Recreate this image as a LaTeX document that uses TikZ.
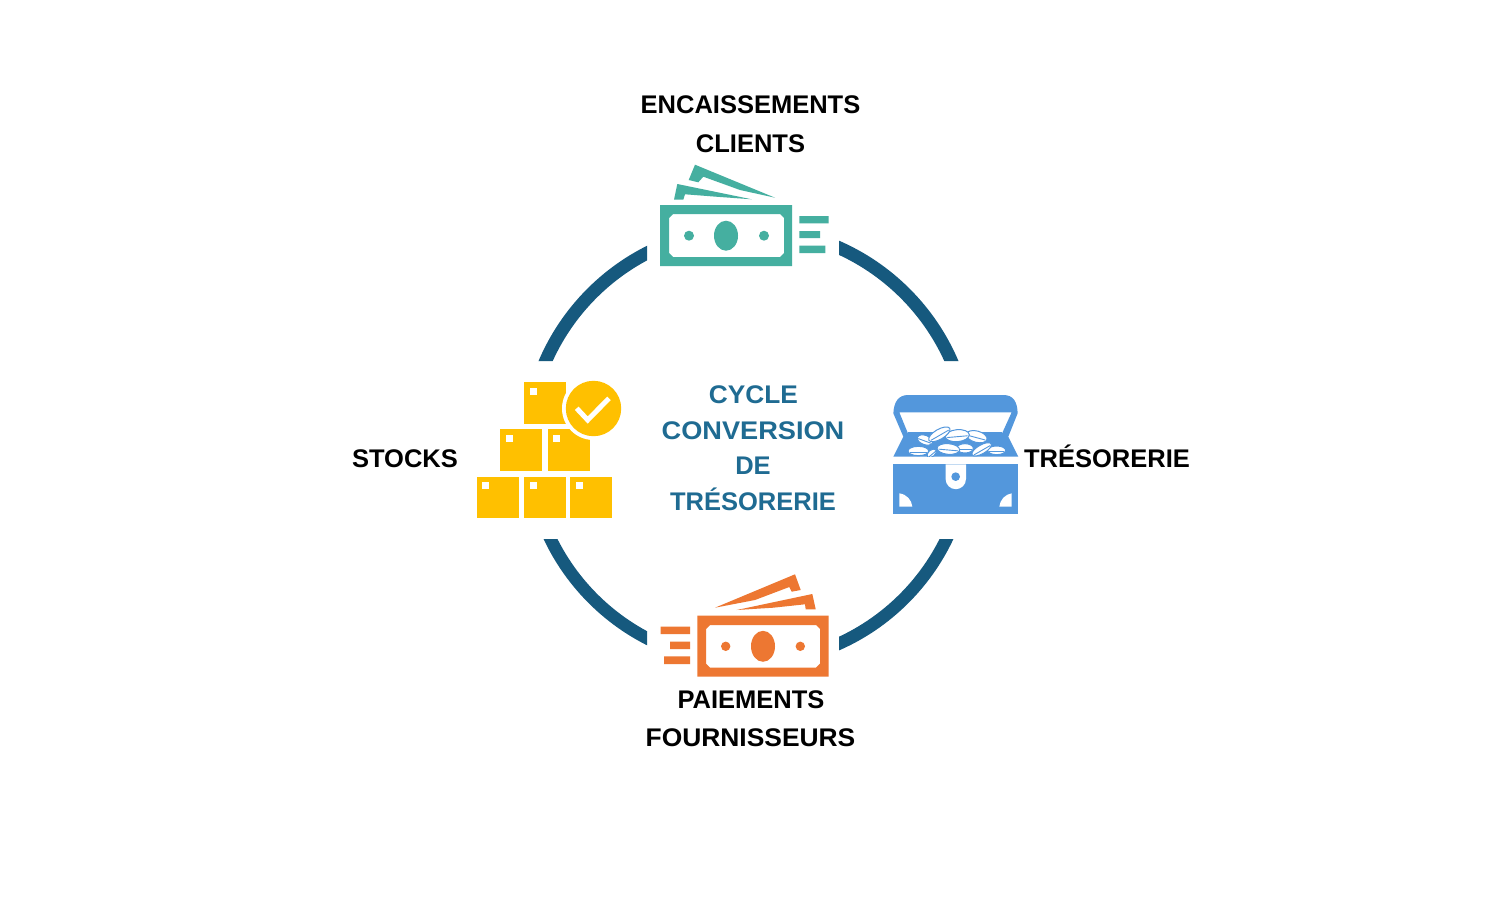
\documentclass[tikz,border=0pt]{standalone}
\usepackage{fontspec}
\setmainfont{Liberation Sans}
\definecolor{ringblue}{HTML}{16597E}
\definecolor{titleblue}{HTML}{1F6B92}
\definecolor{teal}{HTML}{45AFA0}
\definecolor{orng}{HTML}{ED7732}
\definecolor{chest}{HTML}{5397DC}
\definecolor{gold}{HTML}{FFC000}
\tikzset{
  lab/.style={font=\fontsize{25.5}{25.5}\selectfont\bfseries,text=black,inner sep=0pt,text height=18pt,text depth=0pt,anchor=center},
  ttl/.style={lab,text=titleblue},
  coin/.style={fill=white,draw=chest,line width=1pt}
}
\newcommand{\bx}[2]{%
  \fill[gold] (#1,#2) rectangle ++(42,41.5);
  \fill[white] (#1+5.7,#2+5.5) rectangle ++(7,7);}
\newcommand{\cn}[5]{%
  \draw[coin,shift={(#1,#2)},rotate=#5] (0,0) ellipse[x radius=#3/3 pt,y radius=#4/3 pt];
  \draw[chest,line width=.9pt,shift={(#1,#2)},rotate=#5] (-#3*.85,3) -- (#3*.85,3);}
\begin{document}
\begin{tikzpicture}[x=1pt,y=-1pt]
\useasboundingbox (0,0) rectangle (1500,921);
\fill[white] (0,0) rectangle (1500,921);
% ring
\begin{scope}
\clip (400,200) rectangle (647,361) (839,200) rectangle (1100,361);
\draw[ringblue,line width=13pt] (748.5,450) circle[radius=221.5];
\end{scope}
\begin{scope}
\clip (400,539) rectangle (647,700) (839,539) rectangle (1100,700);
\draw[ringblue,line width=12.5pt] (748.5,443) circle[radius=220];
\end{scope}
% green bill
\begin{scope}[even odd rule]
\fill[teal] (660,205) rectangle (792,266)
  (673,214) -- (780,214) -- (784,218) -- (784,253) -- (780,257) -- (673,257) -- (669,253) -- (669,218) -- cycle;
\end{scope}
\fill[teal] (726,235.7) ellipse[x radius=12pt,y radius=15pt];
\fill[teal] (689,235.7) circle[radius=5] (764,235.7) circle[radius=5];
\fill[teal] (799.3,216) rectangle (828.7,223.3) (799.3,231) rectangle (820,238) (799.3,245.7) rectangle (825.3,253);
\fill[teal] (695,164.7) -- (775,197.7) -- (740,190) -- (703.3,176.7) -- (698.3,182.3) -- (688.7,180) -- cycle;
\fill[teal] (677.3,184) -- (751.7,199.3) -- (720,197) -- (685,194.3) -- (683.3,199.7) -- (674,199.7) -- cycle;
% orange bill
\begin{scope}[even odd rule]
\fill[orng] (697.3,615.7) rectangle (828.7,676.7)
  (710,625) -- (816,625) -- (820,629) -- (820,663.7) -- (816,667.7) -- (710,667.7) -- (706,663.7) -- (706,629) -- cycle;
\end{scope}
\fill[orng] (763,646.3) ellipse[x radius=12pt,y radius=15.5pt];
\fill[orng] (725.7,646.3) circle[radius=4.7] (800.3,646.3) circle[radius=4.7];
\fill[orng] (660.7,626.7) rectangle (690,634) (670,641.7) rectangle (690,649) (664,656.3) rectangle (690,664);
\fill[orng] (795,574.3) -- (800.7,590) -- (791.7,591.7) -- (789.3,587) -- (755,600) -- (715,607.7) -- cycle;
\fill[orng] (812.3,594) -- (815.7,609.3) -- (805.7,609.3) -- (805,604.3) -- (773.3,607.7) -- (736.7,610) -- cycle;
% boxes
\bx{524.3}{382}
\bx{500.3}{429.3}\bx{547.7}{429.3}
\bx{476.7}{476.7}\bx{524.3}{476.7}\bx{570}{476.7}
\fill[white] (593.5,408.5) circle[radius=31.5];
\fill[gold] (593.5,408.5) circle[radius=27.7];
\draw[white,line width=5pt] (576.7,408.3) -- (587.7,420) -- (609,398.3);
% chest
\begin{scope}[shift={(880,385)},x=0.3333pt,y=-0.3333pt]
\fill[chest,even odd rule] (40,215) -- (70,155) -- (40,85) .. controls (42,50) and (55,30) .. (85,30) -- (370,30) .. controls (400,30) and (412,50) .. (413,85) -- (385,155) -- (415,215) -- cycle
  (58,82) -- (395,82) -- (365,148) -- (85,148) -- cycle;
\fill[chest] (85,140) rectangle (365,175);
\cn{290}{155}{32}{17}{-15}
\cn{232}{152}{36}{18}{5}
\cn{135}{165}{24}{14}{-20}
\cn{178}{148}{36}{15}{30}
\cn{115}{198}{31}{14}{0}
\cn{350}{196}{27}{13}{0}
\cn{255}{190}{25}{14}{0}
\cn{155}{205}{16}{10}{40}
\cn{205}{192}{34}{16}{-5}
\cn{305}{193}{33}{13}{30}
\fill[white] (30,216) rectangle (425,238);
\fill[chest] (38,238) rectangle (415,388);
\fill[white] (197,238) -- (258,238) -- (258,282) arc[start angle=0,end angle=-180,radius=10.2pt] -- cycle;
\fill[chest] (227,275) circle[radius=13];
\fill[white] (58,365) -- (58,325) .. controls (80,328) and (95,345) .. (97,365) -- cycle;
\fill[white] (395,365) -- (395,325) .. controls (375,328) and (360,345) .. (358,365) -- cycle;
\end{scope}
% labels
\node[lab] (enc) at (750.5,104.5) {ENCAISSEMENTS};
\node[lab] (cli) at (750.5,143.5) {CLIENTS};
\node[lab] (sto) at (405,458.5) {STOCKS};
\node[lab] (tre) at (1107,458.5) {TRÉSORERIE};
\node[lab] (pai) at (751,699) {PAIEMENTS};
\node[lab,xscale=1.035] (fou) at (750.5,737.5) {FOURNISSEURS};
\node[ttl,xscale=1.03] (t1) at (753.5,394) {CYCLE};
\node[ttl,xscale=1.065] (t2) at (753,430) {CONVERSION};
\node[ttl] (t3) at (753,465.5) {DE};
\node[ttl] (t4) at (753,501) {TRÉSORERIE};
\end{tikzpicture}
\end{document}
